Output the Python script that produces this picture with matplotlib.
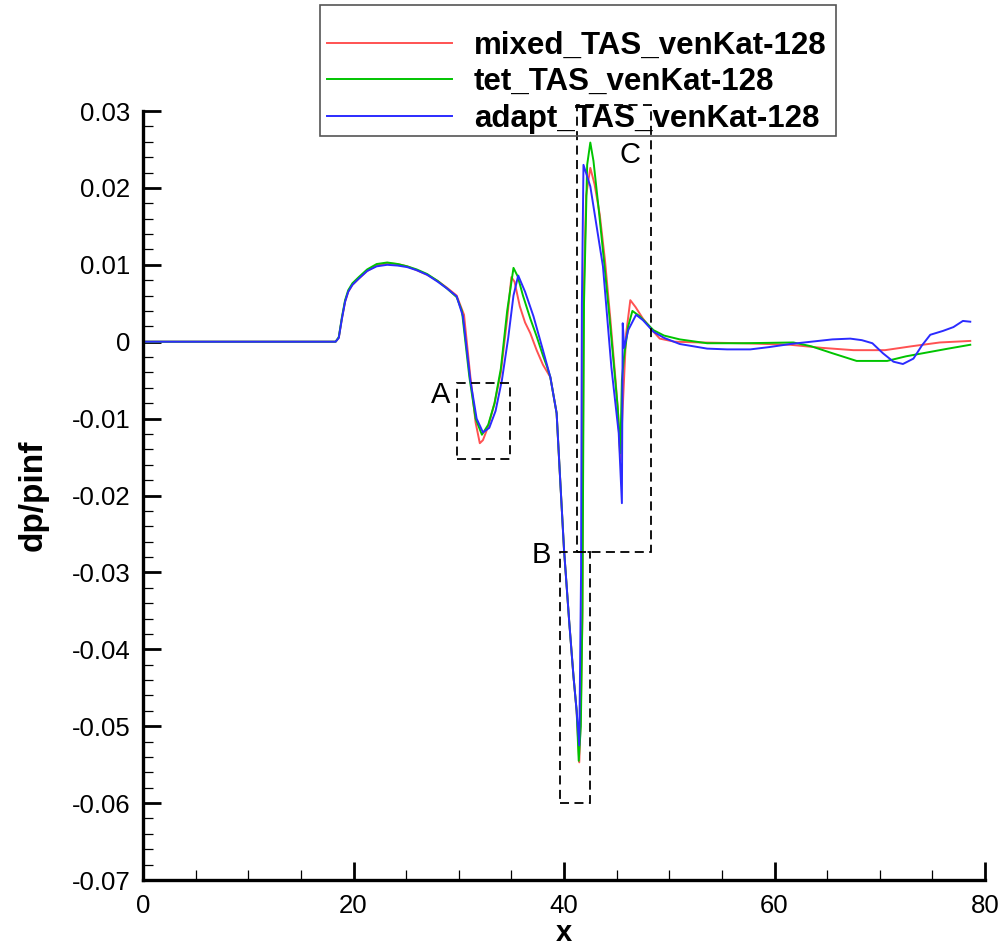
import numpy as np
import matplotlib.pyplot as plt
from matplotlib.patches import Rectangle

plt.rcParams['font.family'] = ['Liberation Sans', 'DejaVu Sans']

# mixed_TAS_venKat-128
x_mixed = [0, 18.3, 18.6, 18.9, 19.2, 19.5, 19.9, 20.5, 21.3, 22.2, 23.2, 24.2, 25.1, 26.0, 27.0,
           28.0, 28.9, 29.8, 30.5, 31.1, 31.6, 32.0, 32.3, 32.8, 33.4, 34.0, 34.6, 35.0, 35.3,
           35.8, 36.3, 36.8, 37.4, 38.0, 38.7, 39.3, 39.6, 40.0, 40.5, 40.9, 41.2, 41.45, 41.6,
           41.75, 41.85, 42.1, 42.5, 42.9, 43.4, 43.9, 44.4, 44.9, 45.15, 45.35, 45.6, 45.9, 46.3,
           46.8, 47.5, 48.5, 49.1, 50.5, 52.9, 57.0, 61.5, 64.5, 67.5, 70.5, 73.0, 75.7, 78.6]
y_mixed = [0, 0, 0.0005, 0.0030, 0.0052, 0.0065, 0.0074, 0.0082, 0.0092, 0.0099, 0.0102, 0.0101,
           0.0098, 0.0093, 0.0087, 0.0079, 0.0070, 0.0060, 0.0035, -0.0045, -0.0105, -0.0132,
           -0.0128, -0.0110, -0.0080, -0.0040, 0.0030, 0.0084, 0.0078, 0.0046, 0.0025, 0.0011,
           -0.0011, -0.0030, -0.0046, -0.0093, -0.0170, -0.0270, -0.0365, -0.0435, -0.0480,
           -0.0547, -0.0480, -0.0360, 0.0050, 0.0190, 0.0226, 0.0205, 0.0165, 0.0105, 0.0030,
           -0.0050, -0.0095, -0.0154, -0.0080, 0.0010, 0.0054, 0.0045, 0.0030, 0.0013, 0.0004,
           0.0000, -0.0001, -0.0002, -0.0004, -0.0008, -0.0011, -0.0011, -0.0006, -0.0001, 0.0001]

# tet_TAS_venKat-128
x_tet = [0, 18.3, 18.6, 18.9, 19.2, 19.5, 19.9, 20.5, 21.3, 22.2, 23.2, 24.2, 25.1, 26.0, 27.0,
         28.0, 28.9, 29.8, 30.3, 31.0, 31.6, 32.2, 32.8, 33.4, 34.0, 34.6, 35.2, 35.6, 36.1,
         36.8, 37.4, 38.0, 38.4, 38.7, 39.3, 39.6, 40.0, 40.5, 40.9, 41.2, 41.4, 41.6, 41.75,
         41.9, 42.2, 42.5, 42.8, 43.3, 43.8, 44.3, 44.8, 45.1, 45.35, 45.5, 45.7, 46.1, 46.5,
         47.2, 48.0, 48.5, 49.5, 51.0, 53.6, 57.0, 61.8, 63.5, 65.5, 67.8, 70.7, 72.5, 74.5,
         76.5, 78.6]
y_tet = [0, 0, 0.0006, 0.0032, 0.0054, 0.0067, 0.0076, 0.0084, 0.0094, 0.0101, 0.0103, 0.0101,
         0.0098, 0.0094, 0.0088, 0.0079, 0.0069, 0.0058, 0.0040, -0.0045, -0.0100, -0.0121,
         -0.0108, -0.0080, -0.0035, 0.0040, 0.0096, 0.0085, 0.0060, 0.0030, 0.0007, -0.0018,
         -0.0033, -0.0046, -0.0093, -0.0170, -0.0270, -0.0365, -0.0435, -0.0480, -0.0545,
         -0.0500, -0.0350, 0.0050, 0.0230, 0.0259, 0.0235, 0.0172, 0.0105, 0.0035, -0.0040,
         -0.0085, -0.0145, -0.0050, -0.0020, 0.0020, 0.0040, 0.0033, 0.0022, 0.0015, 0.0008,
         0.0003, -0.0002, -0.0002, -0.0001, -0.0006, -0.0015, -0.0025, -0.0025, -0.0019,
         -0.0014, -0.0009, -0.0004]

# adapt_TAS_venKat-128
x_adapt = [0, 18.3, 18.6, 18.9, 19.2, 19.5, 19.9, 20.5, 21.3, 22.2, 23.2, 24.2, 25.1, 26.0, 27.0,
           28.0, 28.9, 29.8, 30.4, 31.1, 31.7, 32.3, 32.9, 33.5, 34.1, 34.7, 35.2, 35.65, 36.3,
           37.1, 38.0, 38.7, 39.3, 39.6, 40.0, 40.5, 40.9, 41.2, 41.45, 41.62, 41.7, 41.85, 42.5,
           43.1, 43.7, 44.5, 45.2, 45.5, 45.58, 45.72, 46.1, 46.85, 47.5, 48.5, 49.5, 51.0, 53.6,
           55.5, 57.7, 59.5, 61.5, 63.5, 65.5, 67.2, 68.3, 69.3, 70.3, 71.3, 72.2, 73.2, 74.0,
           74.8, 76.0, 77.0, 77.9, 78.6]
y_adapt = [0, 0, 0.0005, 0.0030, 0.0052, 0.0065, 0.0074, 0.0082, 0.0092, 0.0098, 0.0100, 0.0099,
           0.0097, 0.0093, 0.0087, 0.0078, 0.0069, 0.0059, 0.0033, -0.0050, -0.0100, -0.0118,
           -0.0112, -0.0090, -0.0050, 0.0005, 0.0060, 0.0086, 0.0065, 0.0033, -0.0011, -0.0046,
           -0.0093, -0.0170, -0.0270, -0.0365, -0.0435, -0.0480, -0.0525, -0.0300, 0.0050, 0.0230,
           0.0202, 0.0150, 0.0098, -0.0033, -0.0119, -0.0210, 0.0024, -0.0008, 0.0015, 0.0035,
           0.0028, 0.0013, 0.0005, -0.0003, -0.0009, -0.0010, -0.0010, -0.0007, -0.0003, 0.0000,
           0.0003, 0.0004, 0.0002, -0.0002, -0.0015, -0.0026, -0.0029, -0.0022, -0.0005, 0.0009,
           0.0014, 0.0019, 0.0027, 0.0026]

series = [
    ('mixed_TAS_venKat-128', x_mixed, y_mixed, '#ff5252'),
    ('tet_TAS_venKat-128', x_tet, y_tet, '#00c400'),
    ('adapt_TAS_venKat-128', x_adapt, y_adapt, '#2b2bff'),
]

# zoom boxes: label, x0, x1, y0, y1, label position
boxes = [
    ('A', 29.8, 34.9, -0.0153, -0.0054, 28.3, -0.0069),
    ('B', 39.6, 42.5, -0.0600, -0.0273, 37.8, -0.0277),
    ('C', 41.2, 48.3, -0.0273, 0.0308, 46.3, 0.0243),
]

fig = plt.figure(figsize=(10.02, 9.5), dpi=100)
ax = fig.add_axes([143 / 1002, 1 - 880 / 950, 842 / 1002, 769 / 950])

lines = []
for name, xs, ys, col in series:
    ln, = ax.plot(xs, ys, color=col, lw=1.4, label=name)
    lines.append(ln)

for lab, x0, x1, y0, y1, lx, ly in boxes:
    ax.add_patch(Rectangle((x0, y0), x1 - x0, y1 - y0, fill=False, ec='black',
                           lw=1.3, ls=(0, (5, 3)), clip_on=False, zorder=5))
    ax.text(lx, ly, lab, fontsize=21, ha='center', va='center')

ax.set_xlim(0, 80)
ax.set_ylim(-0.07, 0.03)
ax.set_xticks(np.arange(0, 81, 20))
ax.set_xticks(np.arange(0, 81, 5), minor=True)
ax.set_yticks(np.arange(-0.07, 0.0301, 0.01))
ax.set_yticks(np.arange(-0.07, 0.0301, 0.002), minor=True)
ax.set_yticklabels(['-0.07', '-0.06', '-0.05', '-0.04', '-0.03', '-0.02', '-0.01', '0',
                    '0.01', '0.02', '0.03'])

for s in ['top', 'right']:
    ax.spines[s].set_visible(False)
for s in ['left', 'bottom']:
    ax.spines[s].set_linewidth(2.4)

ax.tick_params(which='major', direction='in', length=13, width=2.0, labelsize=18.5)
ax.tick_params(which='minor', direction='in', length=7.5, width=0.9)
ax.tick_params(axis='y', which='major', pad=9)
ax.tick_params(axis='x', which='major', pad=10)

ax.set_xlabel('x', fontsize=21, fontweight='bold', labelpad=1)
ax.set_ylabel('dp/pinf', fontsize=24, fontweight='bold', labelpad=17)

fig.patches.append(Rectangle((320 / 1002, 1 - 136 / 950), 516 / 1002, 131 / 950,
                             transform=fig.transFigure, fill=False,
                             ec='#555555', lw=1.2, zorder=3))
leg = fig.legend(handles=lines, loc='upper left', bbox_to_anchor=(327 / 1002, 1 - 31 / 950),
                 frameon=False, handlelength=4.0, handletextpad=0.7, labelspacing=0.2,
                 borderpad=0, borderaxespad=0, prop={'weight': 'bold', 'size': 22.5})
leg.set_zorder(2)

fig.savefig('out.png', dpi=100)
